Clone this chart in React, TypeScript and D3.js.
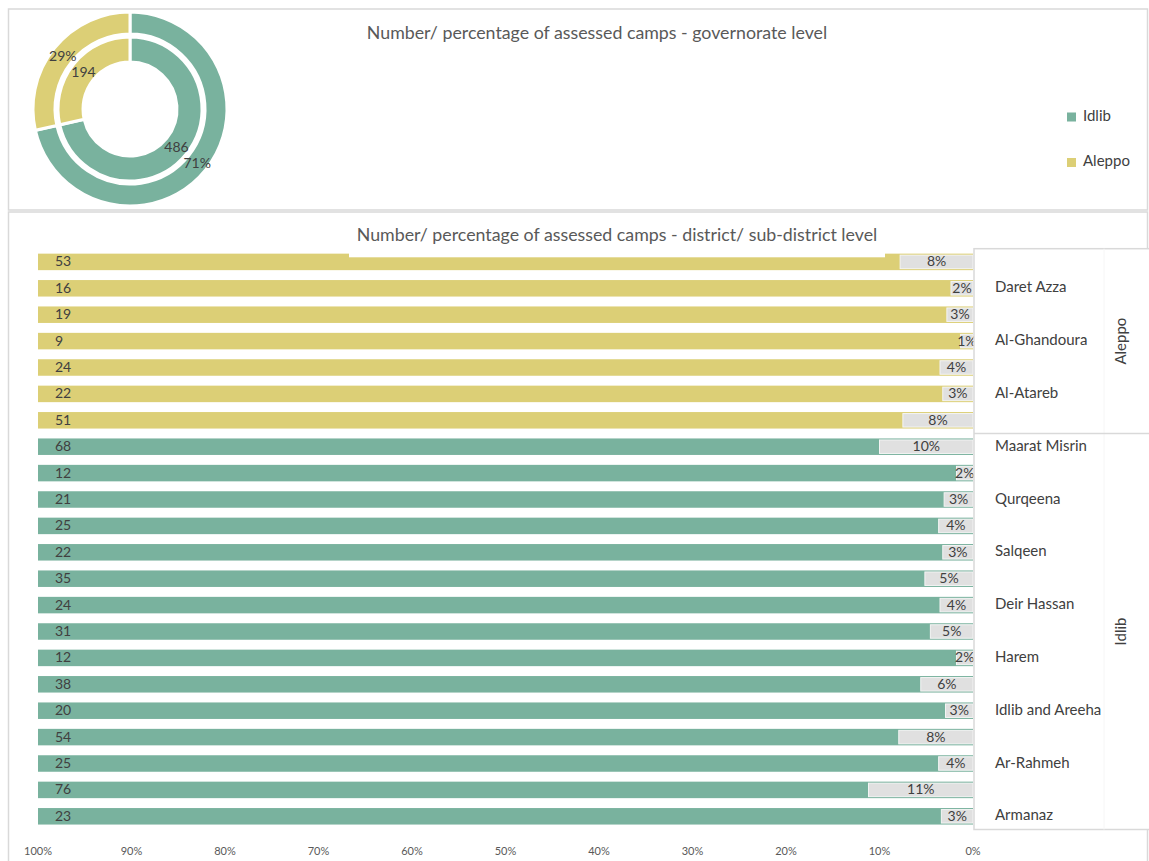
import React from "react";
import * as d3 from "d3";

const governorates = ["Idlib", "Aleppo"];
const governorateTotals = [486, 194];
const governorateColors = ["#79b29e", "#dccf76"];

// rows top to bottom; null = label not shown in the reference
const aleppoSubdistricts: (string | null)[] = [null, "Daret Azza", null, "Al-Ghandoura", null, "Al-Atareb", null];
const aleppoCamps = [53, 16, 19, 9, 24, 22, 51];
const idlibSubdistricts: (string | null)[] = [
  "Maarat Misrin", null, "Qurqeena", null, "Salqeen", null, "Deir Hassan", null,
  "Harem", null, "Idlib and Areeha", null, "Ar-Rahmeh", null, "Armanaz",
];
const idlibCamps = [68, 12, 21, 25, 22, 35, 24, 31, 12, 38, 20, 54, 25, 76, 23];
const axisTicks = [1, 0.9, 0.8, 0.7, 0.6, 0.5, 0.4, 0.3, 0.2, 0.1, 0];

const FONT = "Lato, 'Open Sans', sans-serif";
const TEXT = "#404040";

export default function App() {
  const total = d3.sum(governorateTotals);
  const rows = [
    ...aleppoCamps.map((v, i) => ({ gov: "Aleppo", name: aleppoSubdistricts[i], v })),
    ...idlibCamps.map((v, i) => ({ gov: "Idlib", name: idlibSubdistricts[i], v })),
  ];
  const colorOf = (g: string) => governorateColors[governorates.indexOf(g)];

  // donut
  const cx = 130, cy = 109;
  const pie = d3.pie<number>().sort(null).value((d) => d)(governorateTotals);
  const outerArc = d3.arc<any>().innerRadius(75).outerRadius(97);
  const innerArc = d3.arc<any>().innerRadius(47).outerRadius(72);

  // bars
  const x = d3.scaleLinear().domain([1, 0]).range([38, 973]);
  const y = d3
    .scaleBand<number>()
    .domain(rows.map((_, i) => i))
    .range([248.7, 829.5])
    .paddingInner(0.375)
    .paddingOuter(0.1875);
  const bw = y.bandwidth();
  const step = y.step();
  const divY = (y(aleppoCamps.length) as number) - (step - bw) / 2;
  const boxTop = 248.7, boxBottom = 829.5;

  return (
    <div style={{ position: "absolute", left: 0, top: 0 }}>
      <svg width={1149} height={861} style={{ display: "block", fontFamily: FONT }}>
        <rect x={0} y={0} width={1149} height={861} fill="#fff" />
        {/* panels */}
        <rect x={8.5} y={9} width={1139} height={201} fill="#fff" stroke="#d9d9d9" strokeWidth={1.5} />
        <rect x={8.5} y={212} width={1139} height={660} fill="#fff" stroke="#d9d9d9" strokeWidth={1.5} />

        {/* donut */}
        <g transform={`translate(${cx},${cy})`}>
          {pie.map((p, i) => (
            <path key={"o" + i} d={outerArc(p) as string} fill={governorateColors[i]} stroke="#fff" strokeWidth={3} />
          ))}
          {pie.map((p, i) => (
            <path key={"i" + i} d={innerArc(p) as string} fill={governorateColors[i]} stroke="#fff" strokeWidth={3} />
          ))}
          {pie.map((p, i) => {
            const [ox, oy] = outerArc.centroid(p);
            const [ix, iy] = innerArc.centroid(p);
            return (
              <g key={"l" + i} fontSize={14} fill={TEXT}>
                <text x={ox} y={oy} textAnchor="middle" dominantBaseline="central">
                  {Math.round((governorateTotals[i] * 100) / total) + "%"}
                </text>
                <text x={ix} y={iy} textAnchor="middle" dominantBaseline="central">
                  {governorateTotals[i]}
                </text>
              </g>
            );
          })}
        </g>
        <text x={597} y={32} textAnchor="middle" dominantBaseline="central" fontSize={17.8} fill="#595959">
          Number/ percentage of assessed camps - governorate level
        </text>
        {/* legend */}
        {governorates.map((g, i) => (
          <g key={g} transform={`translate(1067,${112.5 + i * 45.5})`}>
            <rect width={9} height={9} fill={governorateColors[i]} />
            <text x={16} y={2} dominantBaseline="central" fontSize={15} fill={TEXT}>
              {g}
            </text>
          </g>
        ))}

        {/* bars */}
        {rows.map((r, i) => {
          const yy = y(i) as number;
          const share = r.v / total;
          const pct = Math.round((r.v * 100) / total);
          return (
            <g key={i}>
              <rect x={x(1)} y={yy} width={x(0) - x(1)} height={bw} fill={colorOf(r.gov)} />
              <rect
                x={x(share)}
                y={yy + 1.5}
                width={x(0) - x(share)}
                height={bw - 3}
                fill="#e0e0e0"
                stroke="#f4f4f4"
                strokeWidth={1}
              />
              <text x={55} y={yy + bw / 2 - 1} dominantBaseline="central" fontSize={14} fill={TEXT}>
                {r.v}
              </text>
              <text
                x={(x(share) + x(0)) / 2}
                y={yy + bw / 2 - 1}
                textAnchor="middle"
                dominantBaseline="central"
                fontSize={14}
                fill={TEXT}
              >
                {pct + "%"}
              </text>
            </g>
          );
        })}

        {/* title 2 box over top bar */}
        <rect x={349} y={213} width={536} height={44.3} fill="#fff" />
        <text x={617} y={234} textAnchor="middle" dominantBaseline="central" fontSize={17.8} fill="#595959">
          Number/ percentage of assessed camps - district/ sub-district level
        </text>

        {/* category box */}
        <rect x={974} y={boxTop} width={200} height={boxBottom - boxTop} fill="#fff" stroke="#d9d9d9" strokeWidth={1.5} />
        <line x1={1104} x2={1104} y1={boxTop} y2={boxBottom} stroke="#f6f6f6" strokeWidth={1} />
        <line x1={974} x2={1149} y1={divY} y2={divY} stroke="#d9d9d9" strokeWidth={1.5} />
        {rows.map((r, i) =>
          r.name ? (
            <text key={"n" + i} x={995} y={(y(i) as number) + bw / 2 - 2} dominantBaseline="central" fontSize={15} fill={TEXT}>
              {r.name}
            </text>
          ) : null
        )}
        {[
          { g: "Aleppo", y0: boxTop, y1: divY },
          { g: "Idlib", y0: divY, y1: boxBottom },
        ].map((s) => (
          <text
            key={s.g}
            transform={`translate(1120,${(s.y0 + s.y1) / 2}) rotate(-90)`}
            textAnchor="middle"
            dominantBaseline="central"
            fontSize={15}
            fill={TEXT}
          >
            {s.g}
          </text>
        ))}

        {/* axis */}
        {axisTicks.map((t) => (
          <text key={t} x={x(t)} y={850} textAnchor="middle" dominantBaseline="central" fontSize={11} fill="#595959">
            {d3.format(".0%")(t)}
          </text>
        ))}
      </svg>
    </div>
  );
}
